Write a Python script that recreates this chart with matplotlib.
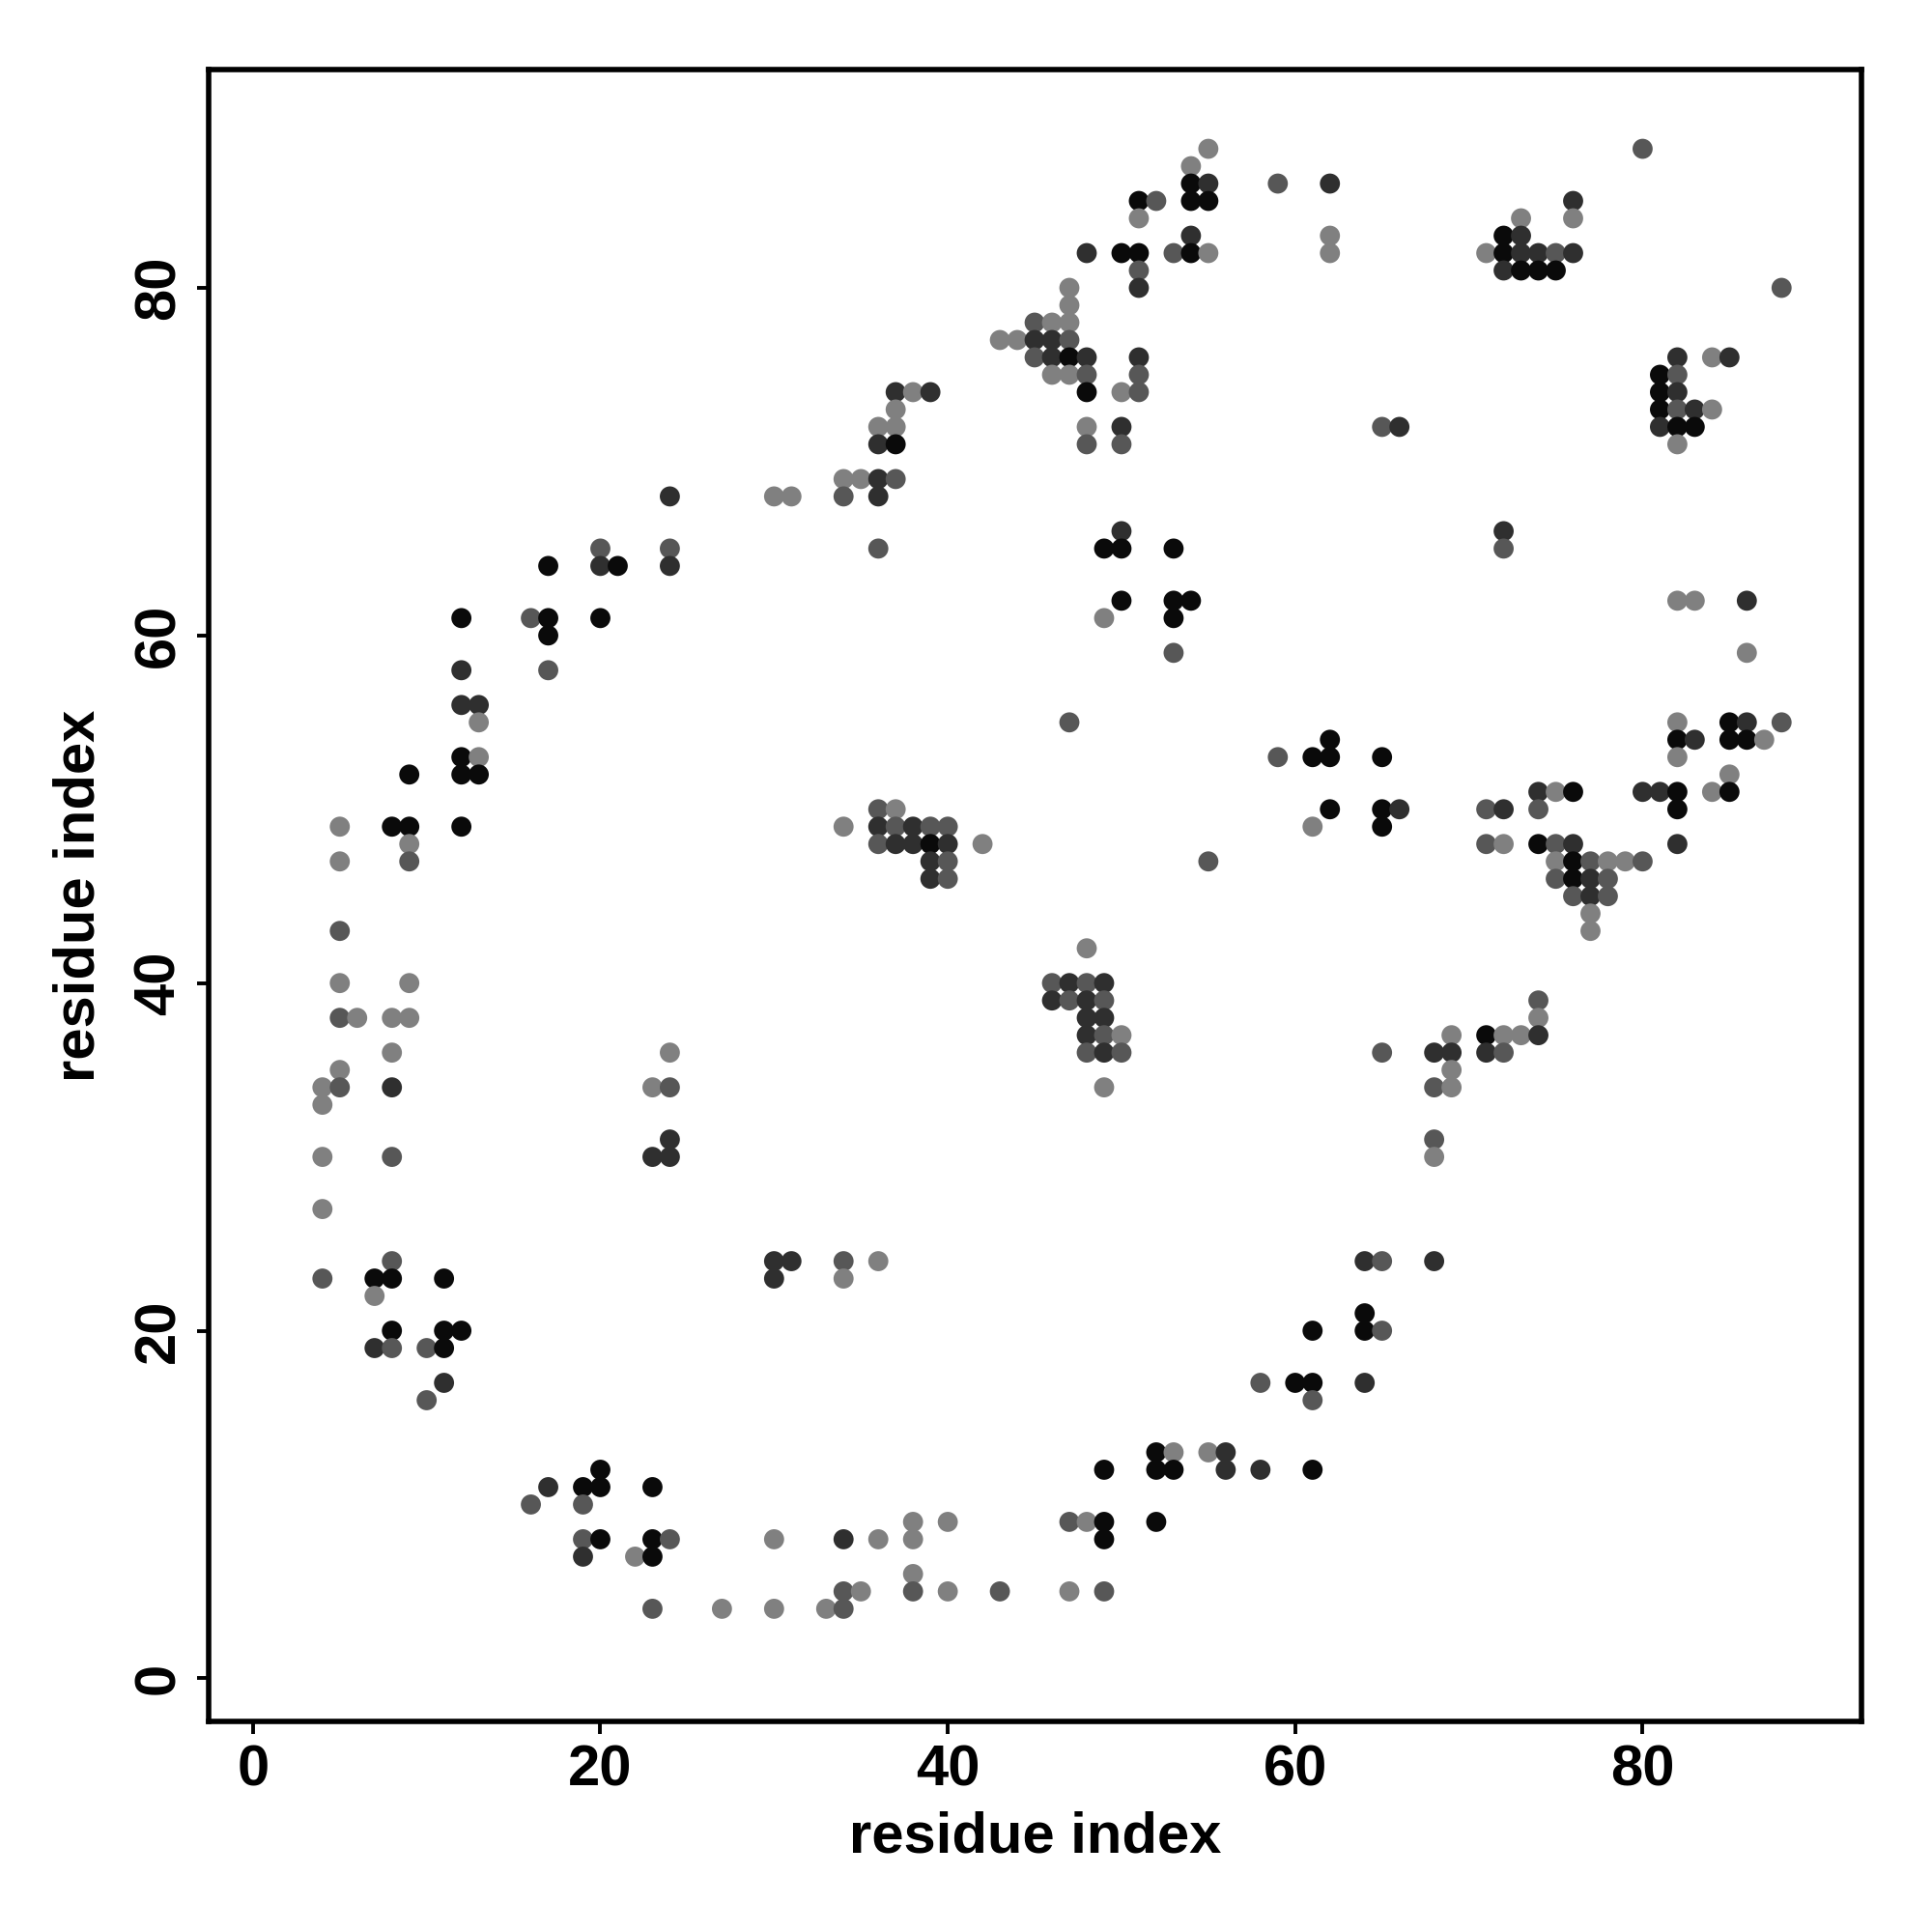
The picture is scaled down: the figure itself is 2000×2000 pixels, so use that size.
import matplotlib
matplotlib.use("Agg")
import matplotlib.pyplot as plt

# contact points: residue i, residue j, shade level (0 = darkest ... 3 = lightest)
res_x = [
    55, 80, 54,
    54, 55, 59, 62,
    51, 52, 54, 55, 76,
    51, 73, 76,
    54, 62, 72, 73,
    48, 50, 51, 53, 54, 55, 62, 71, 72, 73, 74, 75, 76,
    51, 72, 73, 74, 75,
    47, 51, 88,
    47,
    45, 46, 47,
    43, 44, 45, 46, 47,
    45, 46, 47, 48, 51, 82, 84, 85,
    46, 47, 48, 51, 81, 82,
    37, 38, 39, 48, 50, 51, 81, 82,
    37, 81, 82, 83, 84,
    36, 37, 48, 50, 65, 66, 81, 82, 83,
    36, 37, 48, 50, 82,
    34, 35, 36, 37,
    24, 30, 31, 34, 36,
    50, 72,
    20, 24, 36, 49, 50, 53, 72,
    17, 20, 21, 24,
    50, 53, 54, 82, 83, 86,
    12, 16, 17, 20, 49, 53,
    17,
    53, 86,
    12, 17,
    12, 13,
    13, 47, 82, 85, 86, 88,
    62, 82, 83, 85, 86, 87,
    12, 13, 59, 61, 62, 65, 82,
    9, 12, 13, 85,
    74, 75, 76, 80, 81, 82, 84, 85,
    36, 37, 62, 65, 66, 71, 72, 74, 82,
    5, 8, 9, 12, 34, 36, 37, 38, 39, 40, 61, 65,
    9, 36, 37, 38, 39, 40, 42, 71, 72, 74, 75, 76, 82,
    5, 9, 39, 40, 55, 75, 76, 77, 78, 79, 80,
    39, 40, 75, 76, 77, 78,
    76, 77, 78,
    77,
    5, 77,
    48,
    5, 9, 46, 47, 48, 49,
    46, 47, 48, 49, 74,
    5, 6, 8, 9, 48, 49, 74,
    48, 49, 50, 69, 71, 72, 73, 74,
    8, 24, 48, 49, 50, 65, 68, 69, 71, 72,
    5, 69,
    4, 5, 8, 23, 24, 49, 68, 69,
    4,
    24, 68,
    4, 8, 23, 24, 68,
    4,
    8, 30, 31, 34, 36, 64, 65, 68,
    4, 7, 8, 11, 30, 34,
    7,
    64,
    8, 11, 12, 61, 64, 65,
    7, 8, 10, 11,
    11, 58, 60, 61, 64,
    10, 61,
    52, 53, 55, 56,
    20, 49, 52, 53, 56, 58, 61,
    17, 19, 20, 23,
    16, 19,
    38, 40, 47, 48, 49, 52,
    19, 20, 23, 24, 30, 34, 36, 38, 49,
    19, 22, 23,
    38,
    34, 35, 38, 40, 43, 47, 49,
    23, 27, 30, 33, 34,
]
res_y = [
    88, 88, 87,
    86, 86, 86, 86,
    85, 85, 85, 85, 85,
    84, 84, 84,
    83, 83, 83, 83,
    82, 82, 82, 82, 82, 82, 82, 82, 82, 82, 82, 82, 82,
    81, 81, 81, 81, 81,
    80, 80, 80,
    79,
    78, 78, 78,
    77, 77, 77, 77, 77,
    76, 76, 76, 76, 76, 76, 76, 76,
    75, 75, 75, 75, 75, 75,
    74, 74, 74, 74, 74, 74, 74, 74,
    73, 73, 73, 73, 73,
    72, 72, 72, 72, 72, 72, 72, 72, 72,
    71, 71, 71, 71, 71,
    69, 69, 69, 69,
    68, 68, 68, 68, 68,
    66, 66,
    65, 65, 65, 65, 65, 65, 65,
    64, 64, 64, 64,
    62, 62, 62, 62, 62, 62,
    61, 61, 61, 61, 61, 61,
    60,
    59, 59,
    58, 58,
    56, 56,
    55, 55, 55, 55, 55, 55,
    54, 54, 54, 54, 54, 54,
    53, 53, 53, 53, 53, 53, 53,
    52, 52, 52, 52,
    51, 51, 51, 51, 51, 51, 51, 51,
    50, 50, 50, 50, 50, 50, 50, 50, 50,
    49, 49, 49, 49, 49, 49, 49, 49, 49, 49, 49, 49,
    48, 48, 48, 48, 48, 48, 48, 48, 48, 48, 48, 48, 48,
    47, 47, 47, 47, 47, 47, 47, 47, 47, 47, 47,
    46, 46, 46, 46, 46, 46,
    45, 45, 45,
    44,
    43, 43,
    42,
    40, 40, 40, 40, 40, 40,
    39, 39, 39, 39, 39,
    38, 38, 38, 38, 38, 38, 38,
    37, 37, 37, 37, 37, 37, 37, 37,
    36, 36, 36, 36, 36, 36, 36, 36, 36, 36,
    35, 35,
    34, 34, 34, 34, 34, 34, 34, 34,
    33,
    31, 31,
    30, 30, 30, 30, 30,
    27,
    24, 24, 24, 24, 24, 24, 24, 24,
    23, 23, 23, 23, 23, 23,
    22,
    21,
    20, 20, 20, 20, 20, 20,
    19, 19, 19, 19,
    17, 17, 17, 17, 17,
    16, 16,
    13, 13, 13, 13,
    12, 12, 12, 12, 12, 12, 12,
    11, 11, 11, 11,
    10, 10,
    9, 9, 9, 9, 9, 9,
    8, 8, 8, 8, 8, 8, 8, 8, 8,
    7, 7, 7,
    6,
    5, 5, 5, 5, 5, 5, 5,
    4, 4, 4, 4, 4,
]
shade = [
    3, 2, 3,
    0, 1, 2, 1,
    0, 2, 0, 0, 1,
    3, 3, 3,
    1, 3, 0, 1,
    1, 0, 0, 2, 0, 3, 3, 3, 0, 1, 1, 2, 1,
    2, 1, 0, 0, 0,
    3, 1, 2,
    3,
    2, 3, 3,
    3, 3, 1, 1, 2,
    2, 1, 0, 1, 1, 1, 3, 1,
    3, 3, 2, 2, 0, 2,
    1, 3, 1, 0, 3, 2, 0, 1,
    3, 0, 2, 1, 3,
    3, 3, 3, 1, 2, 1, 1, 0, 0,
    1, 0, 2, 2, 3,
    3, 3, 1, 2,
    1, 3, 3, 2, 1,
    1, 1,
    2, 2, 2, 0, 0, 0, 2,
    0, 1, 0, 1,
    0, 0, 0, 3, 3, 1,
    0, 2, 0, 0, 3, 0,
    0,
    2, 3,
    1, 2,
    1, 1,
    3, 2, 3, 0, 1, 2,
    0, 0, 1, 0, 0, 3,
    0, 3, 2, 0, 0, 0, 3,
    0, 0, 0, 3,
    1, 3, 0, 1, 1, 0, 3, 0,
    2, 3, 0, 0, 1, 2, 1, 2, 0,
    3, 0, 0, 0, 3, 1, 2, 1, 2, 2, 3, 0,
    3, 2, 1, 1, 0, 1, 3, 2, 3, 0, 2, 1, 1,
    3, 2, 1, 2, 2, 3, 0, 2, 3, 3, 2,
    1, 2, 2, 0, 1, 2,
    2, 1, 2,
    3,
    2, 3,
    3,
    3, 3, 2, 1, 2, 1,
    1, 2, 1, 2, 2,
    2, 3, 3, 3, 1, 1, 3,
    1, 2, 3, 3, 0, 3, 3, 1,
    3, 3, 2, 1, 2, 2, 1, 1, 1, 2,
    3, 3,
    3, 2, 1, 3, 2, 3, 2, 3,
    3,
    1, 2,
    3, 2, 1, 1, 3,
    3,
    2, 1, 1, 2, 3, 1, 2, 1,
    2, 0, 0, 0, 1, 3,
    3,
    0,
    0, 0, 0, 0, 0, 2,
    1, 2, 2, 0,
    1, 2, 0, 0, 1,
    2, 2,
    0, 3, 3, 1,
    0, 0, 0, 0, 1, 1, 0,
    1, 0, 0, 0,
    2, 2,
    3, 3, 2, 3, 0, 0,
    2, 0, 0, 2, 3, 1, 3, 3, 0,
    1, 3, 0,
    3,
    2, 3, 2, 3, 2, 3, 2,
    2, 3, 3, 3, 2,
]
shade_colors = ["#0a0a0a", "#2f2f2f", "#575757", "#808080"]
tick_vals = [0, 20, 40, 60, 80]

plt.rcParams['font.family'] = ['Liberation Sans', 'DejaVu Sans']
plt.rcParams['font.weight'] = 'bold'

fig = plt.figure(figsize=(10, 10), dpi=200)
ax = fig.add_axes([0.108, 0.109, 0.8555, 0.855])

cols = [shade_colors[s] for s in shade]
ax.scatter(res_x, res_y, s=56, c=cols, linewidths=0, zorder=3)

ax.set_xlim(-2.55, 92.6)
ax.set_ylim(-2.48, 92.56)
ax.set_xticks(tick_vals)
ax.set_yticks(tick_vals)
ax.tick_params(axis='both', direction='out', length=4.5, width=1.4,
               labelsize=21.5, pad=4)
for lab in ax.get_yticklabels():
    lab.set_rotation(90)
    lab.set_va('center')
for sp in ax.spines.values():
    sp.set_linewidth(2.0)

ax.set_xlabel("residue index", fontsize=21.5, fontweight='bold', labelpad=5)
ax.set_ylabel("residue index", fontsize=21.5, fontweight='bold', labelpad=10)

fig.savefig("out.png", dpi=200, facecolor='white')
